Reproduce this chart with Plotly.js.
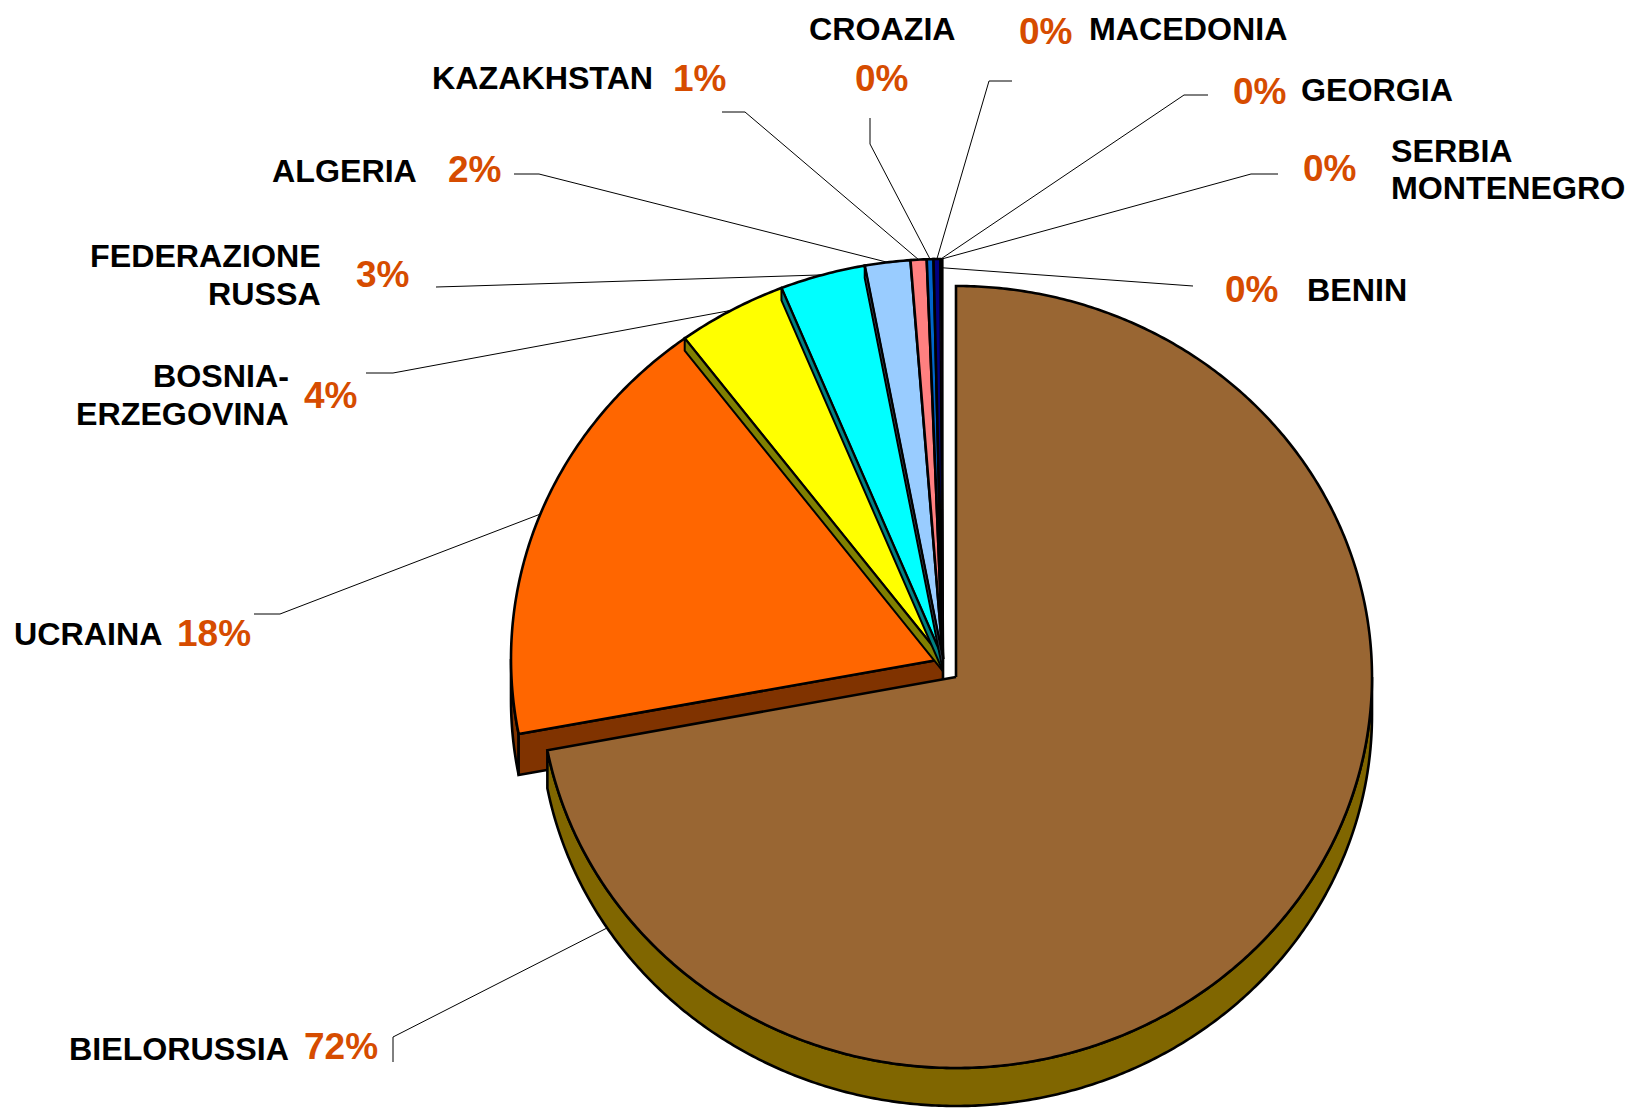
<!DOCTYPE html>
<html><head><meta charset="utf-8">
<script src="https://cdn.plot.ly/plotly-3.0.1.min.js"></script>
<style>html,body{margin:0;padding:0;background:#fff;overflow:hidden;} #chart{width:1629px;height:1108px;}</style>
</head><body><div id="chart"></div>
<script>
// ---- data ----
const countries = ['BIELORUSSIA','UCRAINA','BOSNIA-\nERZEGOVINA','FEDERAZIONE\nRUSSA','ALGERIA','KAZAKHSTAN','CROAZIA','MACEDONIA','GEORGIA','SERBIA\nMONTENEGRO','BENIN'];
const shares = [72.0, 17.8, 4.1, 3.2, 1.7, 0.6, 0.25, 0.25, 0.04, 0.03, 0.03];

// ---- styles ----
const sliceColors = ['#996633','#FF6600','#FFFF00','#00FFFF','#99CCFF','#FF8080','#0066CC','#000080','#CCCCFF','#FF00FF','#800080'];
const wallColors  = ['#806600','#803300','#808000','#008080','#4D6680','#804040','#003366','#000040','#666680','#800080','#400040'];
const pctColor = '#D64C00';
const FONT = 'Liberation Sans, Arial, sans-serif';
const nameSize = 32.2, pctSize = 37, lineGap = 37.5;
const edgeW = 2.6;

// ---- geometry (pixel space) ----
const geo = {cx:943, cy:659, rx:432, ry:400, depth:41};
const pulledIndex = 0;
const pulled = {cx:956, cy:677, rx:416, ry:391, depth:38};
const innerFaceK = 0.3;   // foreshortening of the inner radial faces

// ---- label layout ----
const labelLayout = [
 {name:{x:291,y:1049,a:'right'}, pct:{x:302,y:1046,a:'left'}, leader:[[393,1062],[393,1037]], attach:{theta:237, bottom:true}},
 {name:{x:164,y:634,a:'right'},  pct:{x:175,y:633,a:'left'},  leader:[[254,614],[280,614]]},
 {name:{x:291,y:395,a:'right'},  pct:{x:302,y:395,a:'left'},  leader:[[366,373],[393,373]]},
 {name:{x:323,y:275,a:'right'},  pct:{x:354,y:274,a:'left'},  leader:[[436,287],[470,286]]},
 {name:{x:419,y:171,a:'right'},  pct:{x:446,y:169,a:'left'},  leader:[[514,174],[539,174]]},
 {name:{x:655,y:78,a:'right'},   pct:{x:671,y:78,a:'left'},   leader:[[722,112],[745,112]]},
 {name:{x:882,y:29,a:'center'},  pct:{x:881,y:78,a:'center'}, leader:[[870,118],[870,144]]},
 {name:{x:1087,y:29,a:'left'},   pct:{x:1017,y:31,a:'left'},  leader:[[1012,81],[989,81]]},
 {name:{x:1299,y:90,a:'left'},   pct:{x:1231,y:91,a:'left'},  leader:[[1208,95],[1184,95]]},
 {name:{x:1389,y:169.5,a:'left'},pct:{x:1301,y:168,a:'left'}, leader:[[1278,174],[1251,174]]},
 {name:{x:1305,y:290,a:'left'},  pct:{x:1223,y:289,a:'left'}, leader:[[1193,286]], attach:{r:0.978}}
];

// ---- helpers ----
const total = shares.reduce((a,b)=>a+b,0);
const bounds = []; let acc = 0;
shares.forEach(v => { const a0 = acc/total*360; acc += v; bounds.push([a0, acc/total*360]); });

function P(g, th, dy, rf){ const r = th*Math.PI/180; rf = rf||1; return [g.cx + rf*g.rx*Math.sin(r), g.cy - rf*g.ry*Math.cos(r) + (dy||0)]; }
function arc(g, a0, a1, dy){ const n = Math.max(2, Math.ceil(Math.abs(a1-a0)/0.5)+1); const pts=[]; for(let k=0;k<n;k++) pts.push(P(g, a0+(a1-a0)*k/(n-1), dy)); return pts; }
function poly(pts, fill, lw){ const xs=pts.map(p=>p[0]), ys=pts.map(p=>p[1]); xs.push(xs[0]); ys.push(ys[0]);
  return {type:'scatter', mode:'lines', x:xs, y:ys, fill:'toself', fillcolor:fill, line:{color:'#000', width:lw==null?edgeW:lw, simplify:false}, hoverinfo:'skip', showlegend:false}; }
function wedge(g,a0,a1){ return [[g.cx,g.cy]].concat(arc(g,a0,a1,0)); }
function wall(g,a0,a1){ const s=Math.max(a0,90), e=Math.min(a1,270); if(e<=s) return null; return arc(g,s,e,0).concat(arc(g,e,s,g.depth)); }
function radial(g, th, d){ const r=P(g,th,0); return [[g.cx,g.cy], r, [r[0], r[1]+d], [g.cx, g.cy+d]]; }

const traces = [];
// rest of pie: outer walls
shares.forEach((v,i)=>{ if(i===pulledIndex) return; const w = wall(geo, bounds[i][0], bounds[i][1]); if(w) traces.push(poly(w, wallColors[i])); });
// cut face exposed by the pulled slice
const nextI = (pulledIndex+1)%shares.length;
traces.push(poly(radial(geo, bounds[nextI][0], geo.depth), wallColors[nextI]));
// rest of pie: top faces
shares.forEach((v,i)=>{ if(i===pulledIndex) return; traces.push(poly(wedge(geo, bounds[i][0], bounds[i][1]), sliceColors[i], v/total < 0.001 ? 1.2 : edgeW)); });
// inner radial faces seen in perspective (left half only)
shares.forEach((v,i)=>{ if(i===pulledIndex || i===nextI) return; const th = bounds[i][0];
  if (th > 180 && th < 352) traces.push(poly(radial(geo, th, geo.depth*innerFaceK), wallColors[i], 2)); });
// pulled slice
const pw = wall(pulled, bounds[pulledIndex][0], bounds[pulledIndex][1]);
if (pw) traces.push(poly(pw, wallColors[pulledIndex]));
traces.push(poly(wedge(pulled, bounds[pulledIndex][0], bounds[pulledIndex][1]), sliceColors[pulledIndex]));

// ---- labels & leaders ----
const annotations = [], shapes = [];
countries.forEach((c,i)=>{
  const L = labelLayout[i];
  const lines = c.split('\n');
  lines.forEach((t,k)=>{
    const y = L.name.y + (k - (lines.length-1)/2)*lineGap;
    annotations.push({x:L.name.x, y:y, xref:'x', yref:'y', text:t, showarrow:false, xanchor:L.name.a, yanchor:'middle',
      font:{family:FONT, size:nameSize, color:'#000', weight:'bold'}});
  });
  annotations.push({x:L.pct.x, y:L.pct.y, xref:'x', yref:'y', text:Math.round(shares[i]/total*100)+'%', showarrow:false,
    xanchor:L.pct.a, yanchor:'middle', font:{family:FONT, size:pctSize, color:pctColor, weight:'bold'}});
  const g = i===pulledIndex ? pulled : geo;
  const at = L.attach || {};
  const th = at.theta != null ? at.theta : (bounds[i][0]+bounds[i][1])/2;
  const end = P(g, th, at.bottom ? g.depth : 0, at.r || 1);
  const pts = L.leader.concat([end]);
  shapes.push({type:'path', xref:'x', yref:'y', path:'M'+pts.map(p=>p[0]+','+p[1]).join(' L'), line:{color:'#000', width:1}});
});

const layout = {
  width:1629, height:1108, margin:{l:0,r:0,t:0,b:0}, paper_bgcolor:'#fff', plot_bgcolor:'#fff',
  xaxis:{range:[0,1629], visible:false, fixedrange:true},
  yaxis:{range:[1108,0], visible:false, fixedrange:true},
  showlegend:false, hovermode:false, annotations:annotations, shapes:shapes
};
Plotly.newPlot('chart', traces, layout, {displayModeBar:false, staticPlot:true});
</script></body></html>
